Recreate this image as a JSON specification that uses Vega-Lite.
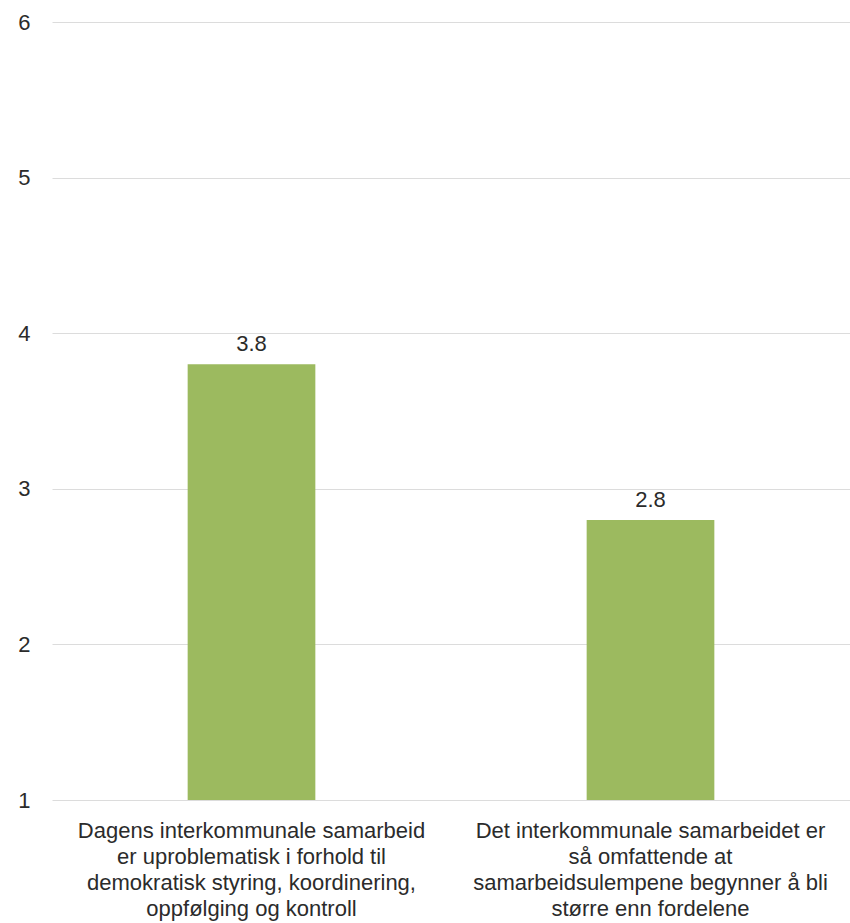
{
  "$schema": "https://vega.github.io/schema/vega-lite/v6.json",
  "autosize": "none",
  "width": 798,
  "height": 778,
  "padding": {"left": 52, "top": 22, "right": 0, "bottom": 123},
  "background": "white",
  "config": {"view": {"stroke": null}, "font": "Liberation Sans"},
  "data": {"values": [
    {"kat": "Dagens interkommunale samarbeid|er uproblematisk i forhold til|demokratisk styring, koordinering,|oppfølging og kontroll", "verdi": 3.8},
    {"kat": "Det interkommunale samarbeidet er|så omfattende at|samarbeidsulempene begynner å bli|større enn fordelene", "verdi": 2.8}
  ]},
  "encoding": {
    "x": {"field": "kat", "type": "nominal", "sort": null,
      "scale": {"paddingInner": 0, "paddingOuter": 0},
      "axis": {"title": null, "labelAngle": 0, "labelExpr": "split(datum.label, '|')", "labelFontSize": 22, "labelColor": "#2b2b2b", "labelLineHeight": 26, "labelPadding": 20, "ticks": false, "domain": false, "labelLimit": 0}},
    "y": {"field": "verdi", "type": "quantitative",
      "scale": {"domain": [1, 6], "nice": false, "zero": false},
      "axis": {"title": null, "values": [1, 2, 3, 4, 5, 6], "labelFontSize": 22, "labelColor": "#2b2b2b", "labelPadding": 22, "ticks": false, "domain": false, "gridColor": "#dcdcdc", "gridWidth": 1}}
  },
  "layer": [
    {"mark": {"type": "bar", "color": "#9cba5f", "width": {"band": 0.32}},
      "encoding": {"y2": {"datum": 1}}},
    {"mark": {"type": "text", "baseline": "bottom", "dy": -8, "fontSize": 22, "color": "#2b2b2b"},
      "encoding": {"text": {"field": "verdi", "type": "quantitative", "format": ".1f"}}}
  ]
}
